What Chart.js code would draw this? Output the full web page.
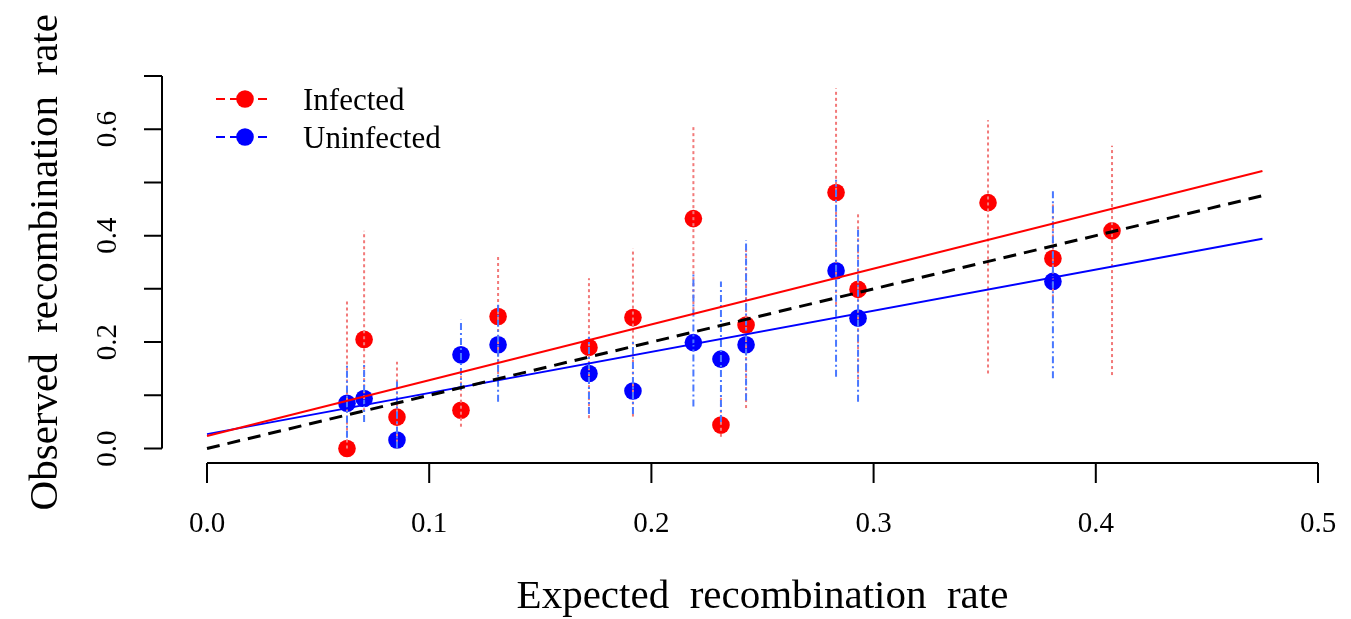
<!DOCTYPE html>
<html>
<head>
<meta charset="utf-8">
<script src="https://cdn.jsdelivr.net/npm/chart.js@4"></script>
<style>
  body { margin: 0; background: #fff; }
  #wrap { width: 1351px; height: 619px; position: relative; }
</style>
</head>
<body>
<div id="wrap"><canvas id="chart"></canvas></div>
<script>
// expected rate (x), shared by both groups
const expectedX = [0.063, 0.0707, 0.0855, 0.1143, 0.131, 0.1719, 0.1917, 0.2189,
  0.2313, 0.2426, 0.2831, 0.293, 0.3515, 0.3807, 0.4073];

// infected
const infectedY = [0.0, 0.205, 0.059, 0.072, 0.248, 0.19, 0.246, 0.432,
  0.044, 0.232, 0.481, 0.299, 0.462, 0.357, 0.409];
const infectedLo = [0.0, 0.07, 0.0, 0.041, 0.14, 0.057, 0.06, 0.26,
  0.022, 0.076, 0.27, 0.13, 0.141, 0.25, 0.138];
const infectedHi = [0.279, 0.409, 0.163, 0.15, 0.364, 0.32, 0.376, 0.608,
  0.1, 0.38, 0.677, 0.445, 0.617, 0.46, 0.569];

// uninfected (no values at 0.3515 and 0.4073)
const uninfectedX = [0.063, 0.0707, 0.0855, 0.1143, 0.131, 0.1719, 0.1917, 0.2189,
  0.2313, 0.2426, 0.2831, 0.293, 0.3807];
const uninfectedY = [0.085, 0.094, 0.016, 0.176, 0.195, 0.141, 0.108, 0.199,
  0.168, 0.195, 0.334, 0.245, 0.314];
const uninfectedLo = [0.02, 0.05, 0.0, 0.11, 0.088, 0.065, 0.065, 0.079,
  0.05, 0.09, 0.135, 0.088, 0.132];
const uninfectedHi = [0.161, 0.16, 0.13, 0.242, 0.276, 0.21, 0.204, 0.33,
  0.314, 0.392, 0.505, 0.411, 0.489];

// fitted lines + y = x reference
const fitX = [0, 0.475];
const infectedFit = [0.0235, 0.5215];
const uninfectedFit = [0.027, 0.394];
const identityY = [0, 0.475];

const xTicks = [0, 0.1, 0.2, 0.3, 0.4, 0.5];
const yTicks = [0, 0.1, 0.2, 0.3, 0.4, 0.5, 0.6, 0.7];
const yLabelTicks = [0, 0.2, 0.4, 0.6];

const SERIF = '"Liberation Serif", "Times New Roman", serif';

function pts(xs, ys) {
  return xs.map((x, i) => ({ x: x, y: ys[i] }));
}

const errorBars = {
  id: "errorBars",
  afterDatasetDraw(chart, args) {
    if (chart.data.datasets[args.index].label !== "Uninfected") return;
    const ctx = chart.ctx;
    const xs = chart.scales.x;
    const ys = chart.scales.y;
    const bars = (xv, lo, hi, color, dash) => {
      ctx.save();
      ctx.strokeStyle = color;
      ctx.lineWidth = 2;
      ctx.setLineDash(dash);
      xv.forEach((x, i) => {
        const px = xs.getPixelForValue(x);
        ctx.beginPath();
        ctx.moveTo(px, ys.getPixelForValue(lo[i]));
        ctx.lineTo(px, ys.getPixelForValue(hi[i]));
        ctx.stroke();
      });
      ctx.restore();
    };
    bars(expectedX, infectedLo, infectedHi, "#f27a7a", [3, 3]);
    bars(uninfectedX, uninfectedLo, uninfectedHi, "#4a78ff", [7, 3, 2, 3]);
  },
};

const rAxes = {
  id: "rAxes",
  afterDraw(chart) {
    const ctx = chart.ctx;
    const xs = chart.scales.x;
    const ys = chart.scales.y;
    ctx.save();
    ctx.strokeStyle = "#000";
    ctx.fillStyle = "#000";
    ctx.lineWidth = 2;

    // y axis
    const ax = 162;
    ctx.beginPath();
    ctx.moveTo(ax, ys.getPixelForValue(0));
    ctx.lineTo(ax, ys.getPixelForValue(0.7));
    yTicks.forEach((v) => {
      const py = ys.getPixelForValue(v);
      ctx.moveTo(ax, py);
      ctx.lineTo(ax - 18, py);
    });
    ctx.stroke();
    ctx.font = "29px " + SERIF;
    ctx.textAlign = "center";
    ctx.textBaseline = "middle";
    yLabelTicks.forEach((v) => {
      ctx.save();
      ctx.translate(108, ys.getPixelForValue(v));
      ctx.rotate(-Math.PI / 2);
      ctx.fillText(v.toFixed(1), 0, 0);
      ctx.restore();
    });

    // x axis
    const ay = 463;
    ctx.beginPath();
    ctx.moveTo(xs.getPixelForValue(0), ay);
    ctx.lineTo(xs.getPixelForValue(0.5), ay);
    xTicks.forEach((v) => {
      const px = xs.getPixelForValue(v);
      ctx.moveTo(px, ay);
      ctx.lineTo(px, ay + 20);
    });
    ctx.stroke();
    xTicks.forEach((v) => {
      ctx.fillText(v.toFixed(1), xs.getPixelForValue(v), 524);
    });

    // titles
    ctx.font = "41px " + SERIF;
    ctx.textBaseline = "alphabetic";
    ctx.fillText("Expected  recombination  rate", (xs.left + xs.right) / 2, 608);
    ctx.save();
    ctx.translate(57, (ys.top + ys.bottom) / 2);
    ctx.rotate(-Math.PI / 2);
    ctx.fillText("Observed  recombination  rate", 0, 0);
    ctx.restore();

    // legend
    const items = [
      { text: "Infected", color: "#ff0000", y: 99 },
      { text: "Uninfected", color: "#0000ff", y: 137 },
    ];
    ctx.font = "31px " + SERIF;
    ctx.textAlign = "left";
    items.forEach((it) => {
      ctx.strokeStyle = it.color;
      ctx.lineWidth = 2;
      ctx.setLineDash([9, 5]);
      ctx.beginPath();
      ctx.moveTo(216, it.y);
      ctx.lineTo(272, it.y);
      ctx.stroke();
      ctx.setLineDash([]);
      ctx.fillStyle = it.color;
      ctx.beginPath();
      ctx.arc(245, it.y, 8.8, 0, Math.PI * 2);
      ctx.fill();
      ctx.fillStyle = "#000";
      ctx.fillText(it.text, 303, it.y + 11);
    });
    ctx.restore();
  },
};

const ctxChart = document.getElementById("chart").getContext("2d");
new Chart(ctxChart, {
  type: "scatter",
  data: {
    datasets: [
      {
        label: "Infected",
        data: pts(expectedX, infectedY),
        backgroundColor: "#ff0000",
        borderWidth: 0,
        pointRadius: 8.8,
        order: 3,
        clip: false,
      },
      {
        label: "Uninfected",
        data: pts(uninfectedX, uninfectedY),
        backgroundColor: "#0000ff",
        borderWidth: 0,
        pointRadius: 8.8,
        order: 2,
        clip: false,
      },
      {
        label: "Infected fit",
        data: pts(fitX, infectedFit),
        showLine: true,
        borderColor: "#ff0000",
        borderWidth: 2,
        pointRadius: 0,
        order: 1,
        clip: false,
      },
      {
        label: "Uninfected fit",
        data: pts(fitX, uninfectedFit),
        showLine: true,
        borderColor: "#0000ff",
        borderWidth: 2,
        pointRadius: 0,
        order: 1,
        clip: false,
      },
      {
        label: "y = x",
        data: pts(fitX, identityY),
        showLine: true,
        borderColor: "#000000",
        borderWidth: 3,
        borderDash: [13, 8],
        pointRadius: 0,
        order: 0,
        clip: false,
      },
    ],
  },
  options: {
    responsive: true,
    maintainAspectRatio: false,
    animation: false,
    layout: { padding: { left: 207, right: 33, top: 76, bottom: 170.5 } },
    scales: {
      x: { type: "linear", min: 0, max: 0.5, display: false },
      y: { type: "linear", min: 0, max: 0.7, display: false },
    },
    plugins: {
      legend: { display: false },
      tooltip: { enabled: false },
    },
  },
  plugins: [errorBars, rAxes],
});
</script>
</body>
</html>
